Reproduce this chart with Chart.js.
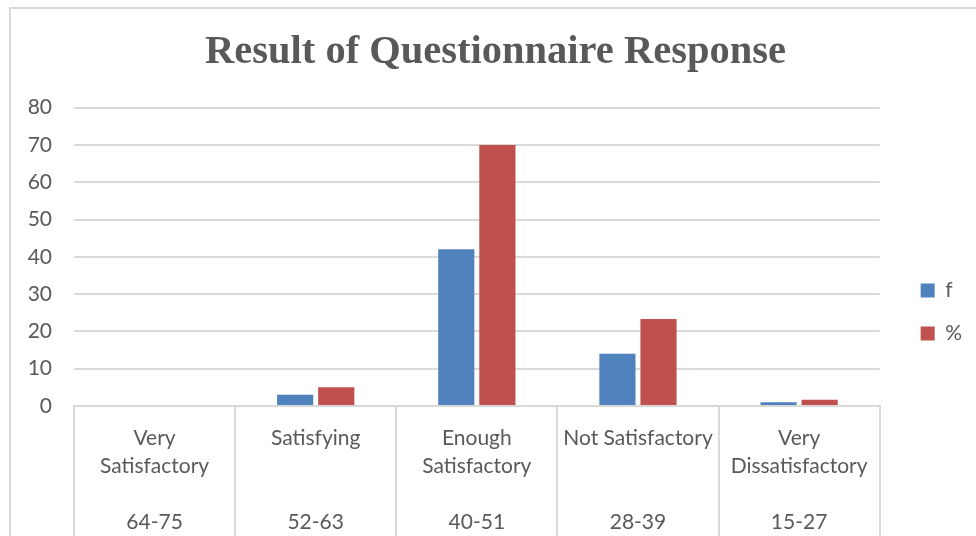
<!DOCTYPE html>
<html>
<head>
<meta charset="utf-8">
<script src="https://cdn.jsdelivr.net/npm/chart.js@4"></script>
<style>
  html, body { margin: 0; padding: 0; background: #fff; }
  #wrap { position: relative; width: 976px; height: 536px; overflow: hidden; }
  #frame { position: absolute; left: 9px; top: 7px; width: 2000px; height: 2000px;
           border-left: 2px solid #d9d9d9; border-top: 2px solid #d9d9d9; }
  canvas { position: absolute; left: 0; top: 0; }
</style>
</head>
<body>
<div id="wrap">
  <div id="frame"></div>
  <canvas id="chart" width="976" height="536"></canvas>
</div>
<script>
const categories = [
  ['Very', 'Satisfactory', '', '64-75'],
  ['Satisfying', '', '', '52-63'],
  ['Enough', 'Satisfactory', '', '40-51'],
  ['Not Satisfactory', '', '', '28-39'],
  ['Very', 'Dissatisfactory', '', '15-27']
];
const freq = [0, 3, 42, 14, 1];
const percent = [0, 5, 70, 23.33, 1.67];
const yTicks = [0, 80, 10]; // min, max, step

const gray = '#595959';
const lineGray = '#d9d9d9';

// nudge legend and title to where the original sits
const nudge = {
  id: 'nudge',
  afterLayout(chart) {
    const lg = chart.legend;
    lg.left += 19; lg.right += 19;
    lg.top += 44; lg.bottom += 44;
    const t = chart.titleBlock;
    t.left += 19; t.right += 19;
  }
};

const ctx = document.getElementById('chart').getContext('2d');
const chart = new Chart(ctx, {
  type: 'bar',
  data: {
    labels: categories,
    datasets: [
      { label: 'f', data: freq, backgroundColor: '#4F81BD' },
      { label: '%', data: percent, backgroundColor: '#C0504D' }
    ]
  },
  options: {
    responsive: false,
    animation: false,
    categoryPercentage: 0.51,
    barPercentage: 0.88,
    layout: { padding: { left: 0, right: 23, top: 0, bottom: 0 } },
    plugins: {
      title: {
        display: true,
        text: 'Result of Questionnaire Response',
        color: gray,
        font: { family: 'Liberation Serif', size: 40.5, weight: 'bold' },
        padding: { top: 28, bottom: 31 }
      },
      legend: {
        position: 'right',
        labels: {
          color: gray,
          font: { family: 'Lato', size: 21 },
          boxWidth: 14,
          boxHeight: 14,
          padding: 22
        }
      },
      tooltip: { enabled: false }
    },
    scales: {
      x: {
        grid: {
          offset: true,
          drawOnChartArea: false,
          tickLength: 130,
          color: lineGray,
          lineWidth: 2
        },
        border: { color: lineGray, width: 2 },
        ticks: {
          color: gray,
          font: { family: 'Lato', size: 21, lineHeight: 28 / 21 },
          padding: -112,
          maxRotation: 0,
          autoSkip: false
        },
        afterFit: scale => { scale.height = 130; }
      },
      y: {
        min: yTicks[0],
        max: yTicks[1],
        ticks: {
          stepSize: yTicks[2],
          color: gray,
          font: { family: 'Lato', size: 21 },
          padding: 22
        },
        grid: { color: lineGray, lineWidth: 2, drawTicks: false },
        border: { display: false },
        afterFit: scale => { scale.width = 74; }
      }
    }
  },
  plugins: [nudge]
});
</script>
</body>
</html>
